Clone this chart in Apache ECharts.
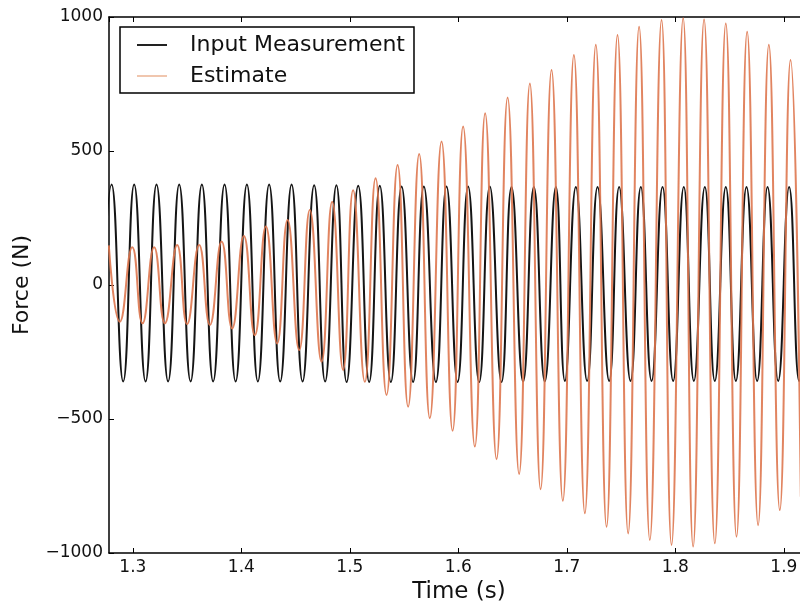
<!DOCTYPE html>
<html>
<head>
<meta charset="utf-8">
<script src="https://cdn.jsdelivr.net/npm/echarts@6/dist/echarts.min.js"></script>
<style>
html,body{margin:0;padding:0;background:#fff;}
#chart{width:800px;height:605px;}
</style>
</head>
<body>
<div id="chart"></div>
<script>
const measTime = [
  1.2696, 1.2804, 1.2911, 1.3012, 1.3117, 1.3218, 1.3325, 1.3427, 1.3532, 1.3636,
  1.3740, 1.3845, 1.3947, 1.4051, 1.4152, 1.4256, 1.4358, 1.4463, 1.4564, 1.4671,
  1.4772, 1.4876, 1.4970, 1.5077, 1.5178, 1.5276, 1.5378, 1.5477, 1.5583, 1.5682,
  1.5793, 1.5891, 1.5993, 1.6090, 1.6192, 1.6290, 1.6398, 1.6490, 1.6597, 1.6696,
  1.6797, 1.6899, 1.6982, 1.7083, 1.7187, 1.7283, 1.7390, 1.7482, 1.7587, 1.7682,
  1.7781, 1.7882, 1.7980, 1.8078, 1.8171, 1.8272, 1.8364, 1.8465, 1.8558, 1.8656,
  1.8754, 1.8850, 1.8948, 1.9049, 1.9141, 1.9240
];
const measForce = [
  -360, 375, -360, 375, -360, 375, -360, 375, -360, 375,
  -360, 375, -360, 375, -360, 375, -360, 375, -360, 372,
  -360, 372, -362, 370, -362, 370, -362, 368, -362, 368,
  -362, 368, -362, 368, -362, 368, -362, 366, -360, 366,
  -360, 366, -358, 366, -358, 366, -358, 366, -358, 366,
  -358, 366, -358, 366, -358, 366, -358, 366, -358, 366,
  -358, 366, -358, 366, -358, 366
];
// Estimate: times (s) of successive peaks / troughs
const estTime = [
  1.2778, 1.2880, 1.2994, 1.3089, 1.3196, 1.3295, 1.3408, 1.3500, 1.3611, 1.3710,
  1.3818, 1.3915, 1.4023, 1.4124, 1.4226, 1.4330, 1.4426, 1.4533, 1.4631, 1.4739,
  1.4837, 1.4938, 1.5030, 1.5138, 1.5237, 1.5338, 1.5440, 1.5537, 1.5639, 1.5737,
  1.5845, 1.5947, 1.6044, 1.6152, 1.6247, 1.6352, 1.6454, 1.6560, 1.6659, 1.6758,
  1.6859, 1.6963, 1.7065, 1.7166, 1.7267, 1.7366, 1.7467, 1.7565, 1.7666, 1.7765,
  1.7873, 1.7965, 1.8072, 1.8164, 1.8265, 1.8364, 1.8465, 1.8564, 1.8662, 1.8763,
  1.8862, 1.8963, 1.9062, 1.9157
];
const estForce = [
  148, -137, 141, -143, 141, -143, 149, -146, 149, -149,
  162, -162, 183, -187, 218, -218, 243, -243, 280, -286,
  311, -317, 354, -361, 398, -410, 448, -454, 489, -497,
  535, -544, 591, -603, 641, -650, 700, -705, 752, -762,
  802, -805, 858, -852, 896, -902, 933, -927, 964, -951,
  989, -970, 995, -976, 991, -964, 976, -939, 945, -896,
  896, -840, 840, -790
];
const yTicks = [-1000, -500, 0, 500, 1000];
const seriesNames = ['Input Measurement', 'Estimate'];

const measData = measTime.map((t, i) => [t, measForce[i]]);
const estData = estTime.map((t, i) => [t, estForce[i]]);

const FONT = 'DejaVu Sans';
const xMin = 1.278, xMax = 1.9232;
const xFmt = v => (Math.abs(v * 10 - Math.round(v * 10)) < 1e-6 ? v.toFixed(1) : '');

const chart = echarts.init(document.getElementById('chart'), null, {renderer: 'canvas'});
chart.setOption({
  animation: false,
  backgroundColor: '#fff',
  grid: {left: 109, top: 17, width: 700, height: 536, containLabel: false, outerBoundsMode: 'none'},
  legend: {
    orient: 'vertical',
    left: 120, top: 27,
    padding: [6, 9, 5, 17],
    itemGap: 7,
    itemWidth: 30, itemHeight: 2,
    icon: 'rect',
    borderColor: '#000', borderWidth: 1.5, borderRadius: 0,
    backgroundColor: '#fff',
    textStyle: {fontFamily: FONT, fontSize: 22, color: '#111', lineHeight: 24, padding: [0, 0, 0, 18]},
    data: [
      {name: seriesNames[0], itemStyle: {color: '#222'}},
      {name: seriesNames[1], itemStyle: {color: '#f0c6ae'}}
    ]
  },
  xAxis: [{
    type: 'value', min: xMin, max: xMax, splitNumber: 6,
    name: 'Time (s)', nameLocation: 'middle', nameGap: 27,
    nameTextStyle: {fontFamily: FONT, fontSize: 23, color: '#111'},
    axisLine: {show: true, onZero: false, lineStyle: {color: '#000', width: 1.5}},
    axisTick: {show: true, inside: true, length: 5, lineStyle: {color: '#000'}},
    axisLabel: {fontFamily: FONT, fontSize: 17, color: '#111', margin: 6, formatter: xFmt, showMinLabel: false, showMaxLabel: false},
    splitLine: {show: false}
  }, {
    type: 'value', position: 'top', min: xMin, max: xMax, splitNumber: 6,
    axisLine: {show: true, onZero: false, lineStyle: {color: '#000', width: 1.5}},
    axisTick: {show: true, inside: true, length: 5, lineStyle: {color: '#000'}},
    axisLabel: {show: false},
    splitLine: {show: false}
  }],
  yAxis: {
    type: 'value', min: yTicks[0], max: yTicks[yTicks.length - 1], interval: 500,
    name: 'Force (N)', nameLocation: 'middle', nameGap: 76,
    nameTextStyle: {fontFamily: FONT, fontSize: 22, color: '#111'},
    axisLine: {show: true, onZero: false, lineStyle: {color: '#000', width: 1.5}},
    axisTick: {show: true, inside: true, length: 5, lineStyle: {color: '#000'}},
    axisLabel: {fontFamily: FONT, fontSize: 17, color: '#111', margin: 6,
      formatter: v => String(v).replace('-', '\u2212')},
    splitLine: {show: false}
  },
  series: [{
    name: seriesNames[0], type: 'line', data: measData,
    showSymbol: false, smooth: 0.5, clip: true,
    lineStyle: {color: '#151515', width: 2},
    itemStyle: {color: '#222'}
  }, {
    name: seriesNames[1], type: 'line', data: estData,
    showSymbol: false, smooth: 0.5, clip: true,
    lineStyle: {color: '#de774f', width: 2, opacity: 0.9},
    itemStyle: {color: '#f0c6ae'}
  }]
});
</script>
</body>
</html>
